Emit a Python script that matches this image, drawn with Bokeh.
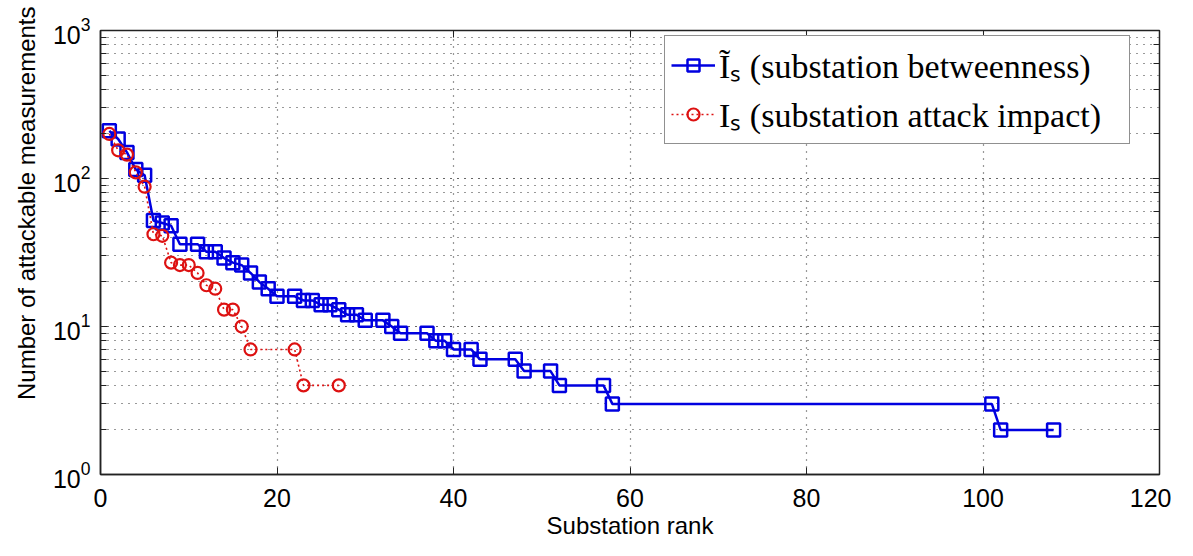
from bokeh.plotting import figure
from bokeh.models import (Range1d, LogAxis, LinearAxis, FixedTicker, LogTicker, Legend,
                          LegendItem, Title)
from bokeh.embed import file_html
from bokeh.resources import INLINE

# Series: substation betweenness (blue squares)
rank_b = [1, 2, 3, 4, 5, 6, 7, 8, 9, 11, 12, 13, 14, 15, 16, 17, 18, 19, 20, 22,
          23, 24, 25, 26, 27, 28, 29, 30, 32, 33, 34, 37, 38, 39, 40, 42, 43, 47,
          48, 51, 52, 57, 58, 101, 102, 108]
val_b = [210, 185, 150, 115, 105, 52, 50, 48, 36, 36, 32, 32, 29, 27, 26, 23, 20, 18, 16, 16,
         15, 15, 14, 14, 13, 12, 12, 11, 11, 10, 9, 9, 8, 8, 7, 7, 6, 6,
         5, 5, 4, 4, 3, 3, 2, 2]

# Series: substation attack impact (red circles)
rank_r = [1, 2, 3, 4, 5, 6, 7, 8, 9, 10, 11, 12, 13, 14, 15, 16, 17, 22, 23, 27]
val_r = [200, 155, 145, 110, 88, 42, 41, 27, 26, 26, 23, 19, 18, 13, 13, 10, 7, 7, 4, 4]

x_ticks = [0, 20, 40, 60, 80, 100, 120]
label_b = "\u0128\u209b (substation betweenness)"
label_r = "I\u209b (substation attack impact)"
x_label = "Substation rank"
y_label = "Number of attackable measurements"

BLUE = "#0000e0"
RED = "#dd1111"
FONT = "Liberation Sans"
TICK = "#222222"

p = figure(
    frame_width=1059, frame_height=444,
    min_border_left=98, min_border_right=12, min_border_top=30, min_border_bottom=60,
    x_range=Range1d(0, 120), y_range=Range1d(1, 1000), y_axis_type="log",
    output_backend="svg", toolbar_location=None,
)
p.background_fill_color = "white"
p.border_fill_color = "white"
p.outline_line_color = TICK
p.outline_line_width = 1.5

# axes
p.xaxis.ticker = FixedTicker(ticks=x_ticks)
for ax in p.xaxis + p.yaxis:
    ax.major_label_text_font = FONT
    ax.major_label_text_font_size = "25px"
    ax.major_label_text_color = "black"
    ax.axis_label_text_font = FONT
    ax.axis_label_text_font_size = "24px"
    ax.axis_label_text_font_style = "normal"
    ax.axis_label_text_color = "black"
    ax.axis_line_color = TICK
    ax.axis_line_width = 1.5
    ax.major_tick_in = 7
    ax.major_tick_out = 0
    ax.minor_tick_in = 6
    ax.minor_tick_out = 0
    ax.major_tick_line_color = TICK
    ax.minor_tick_line_color = TICK
p.xaxis.axis_label = x_label
p.xaxis.major_label_standoff = 14
p.xaxis.axis_label_standoff = 2
p.yaxis.major_label_standoff = 10
p.xaxis.minor_tick_line_color = None

# y axis title, placed as in the reference (upper part of the left margin)
ytitle = Title(text=y_label, align="right", offset=-24, vertical_align="bottom",
               text_font=FONT, text_font_size="24px", text_font_style="normal",
               text_color="black", standoff=20)
p.add_layout(ytitle, "left")

# mirrored axes (ticks on all sides, no visible labels)
right = LogAxis(ticker=LogTicker(), major_label_text_font_size="1px", major_label_text_color=None,
                major_label_standoff=0,
                major_tick_in=7, major_tick_out=0, minor_tick_in=6, minor_tick_out=0,
                axis_line_color=None, major_tick_line_color=TICK, minor_tick_line_color=TICK)
p.add_layout(right, "right")
top = LinearAxis(ticker=FixedTicker(ticks=x_ticks), major_label_text_font_size="1px",
                 major_label_text_color=None, major_label_standoff=0,
                 major_tick_in=7, major_tick_out=0, minor_tick_line_color=None,
                 axis_line_color=None, major_tick_line_color=TICK)
p.add_layout(top, "above")

# grids
for g in (p.xgrid, p.ygrid):
    g.grid_line_color = "#333333"
    g.grid_line_dash = "1 6"
    g.grid_line_width = 1.2
p.ygrid.minor_grid_line_color = "#333333"
p.ygrid.minor_grid_line_dash = "1 6"
p.ygrid.minor_grid_line_width = 1.2

# data
lb = p.line(rank_b, val_b, line_color=BLUE, line_width=2.5)
sb = p.scatter(rank_b, val_b, marker="square", size=13, fill_color=None,
               line_color=BLUE, line_width=2.5)
lr = p.line(rank_r, val_r, line_color=RED, line_width=1.6, line_dash="2 3")
sr = p.scatter(rank_r, val_r, marker="circle", size=12, fill_color=None,
               line_color=RED, line_width=2.2)

legend = Legend(items=[LegendItem(label=label_b, renderers=[lb, sb]),
                       LegendItem(label=label_r, renderers=[lr, sr])],
                location=(564, 330))
legend.label_text_font = "Liberation Serif"
legend.label_text_font_size = "34px"
legend.label_text_color = "black"
legend.border_line_color = TICK
legend.border_line_width = 1.2
legend.background_fill_color = "white"
legend.background_fill_alpha = 1.0
legend.glyph_width = 44
legend.glyph_height = 30
legend.label_height = 46
legend.label_width = 404
legend.spacing = 3
legend.padding = 6
legend.margin = 0
legend.label_standoff = 4
p.add_layout(legend)

open("out.html", "w").write(file_html(p, INLINE))
